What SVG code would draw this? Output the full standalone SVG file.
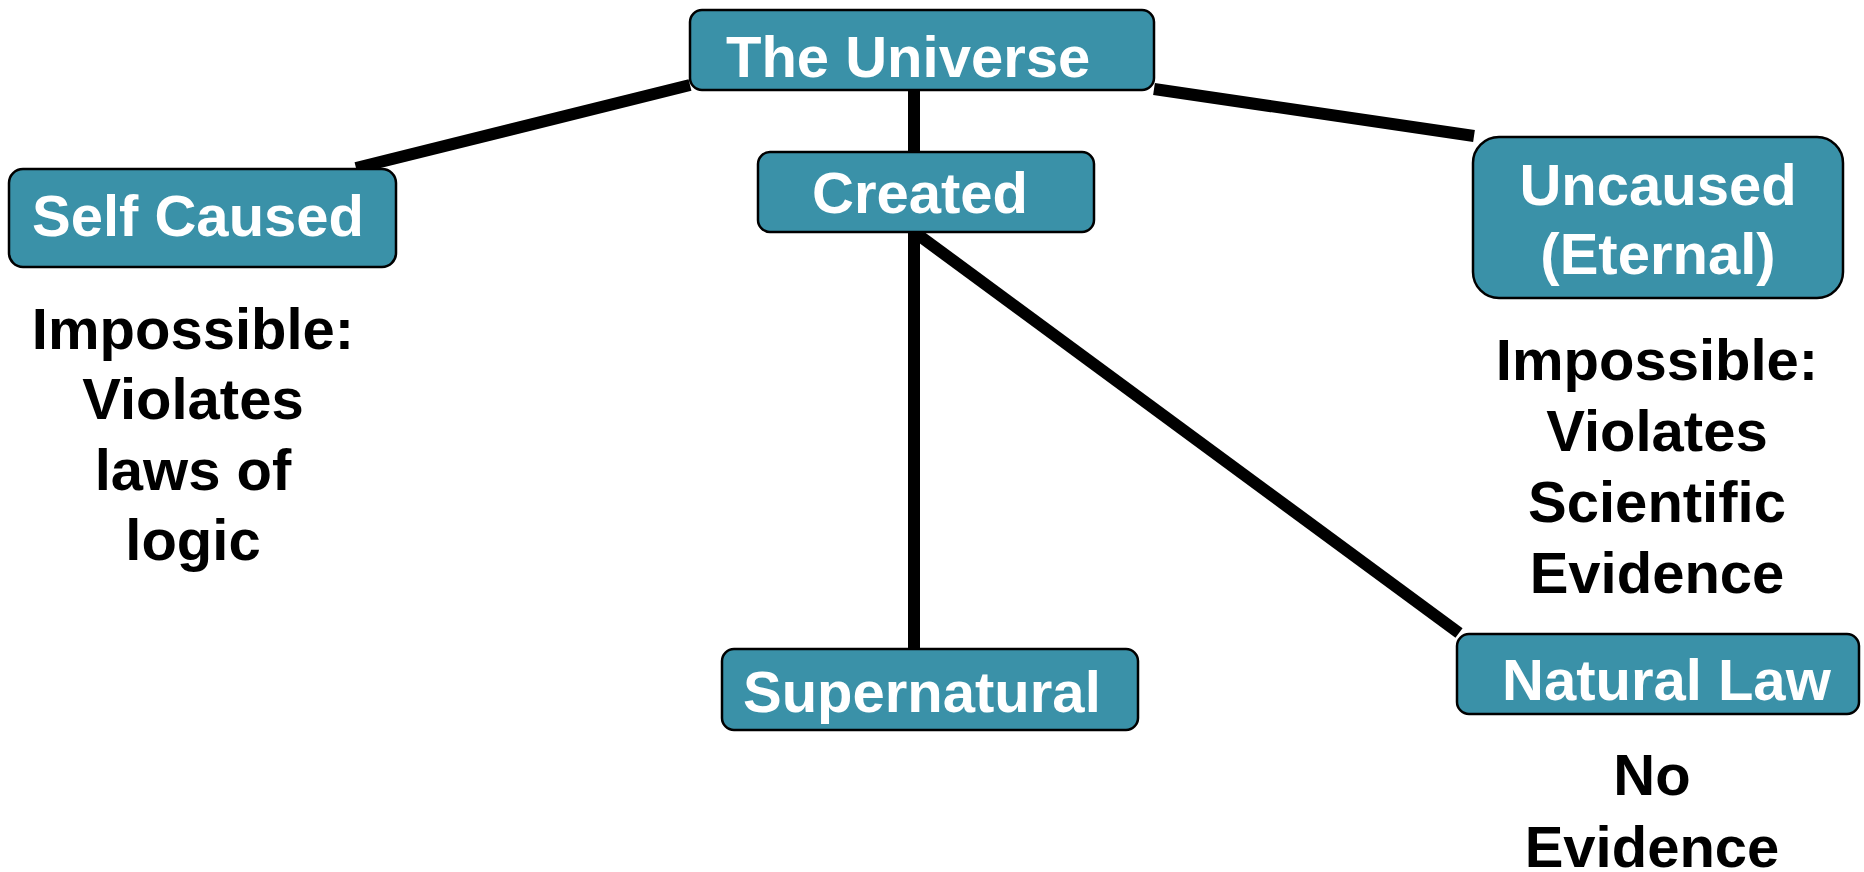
<svg xmlns="http://www.w3.org/2000/svg" width="1864" height="872" viewBox="0 0 1864 872">
<style>
.box{fill:#3a91a8;stroke:#000;stroke-width:2.5}
.bt{font-family:"Liberation Sans",Arial,sans-serif;font-weight:bold;font-size:58px;fill:#fff}
.lt{font-family:"Liberation Sans",Arial,sans-serif;font-weight:bold;font-size:58px;fill:#000;text-anchor:middle}
.c{stroke:#000;stroke-width:12;fill:none;stroke-linecap:butt}
</style>
<rect width="1864" height="872" fill="#fff"/>
<g id="connectors">
<line class="c" x1="690" y1="85" x2="356" y2="168"/>
<line class="c" x1="1154" y1="89" x2="1474" y2="136"/>
<line class="c" x1="914" y1="90" x2="914" y2="153"/>
<line class="c" x1="914" y1="232" x2="914" y2="650"/>
<line class="c" x1="917" y1="234" x2="1459" y2="633"/>
</g>
<g id="universe">
<rect class="box" x="690" y="10" width="464" height="80" rx="12"/>
<text class="bt" x="726" y="77">The Universe</text>
</g>
<g id="self-caused">
<rect class="box" x="9" y="169" width="387" height="98" rx="14"/>
<text class="bt" x="32" y="236">Self Caused</text>
</g>
<g id="created">
<rect class="box" x="758" y="152" width="336" height="80" rx="12"/>
<text class="bt" x="812" y="213">Created</text>
</g>
<g id="uncaused">
<rect class="box" x="1473" y="137" width="370" height="161" rx="26"/>
<text class="bt" x="1658" y="205" text-anchor="middle">Uncaused</text>
<text class="bt" x="1658" y="274" text-anchor="middle">(Eternal)</text>
</g>
<g id="supernatural">
<rect class="box" x="722" y="649" width="416" height="81" rx="12"/>
<text class="bt" x="743" y="712">Supernatural</text>
</g>
<g id="natural-law">
<rect class="box" x="1457" y="634" width="402" height="80" rx="12"/>
<text class="bt" x="1502" y="700">Natural Law</text>
</g>
<g id="label-self">
<text class="lt" x="193" y="349">Impossible:</text>
<text class="lt" x="193" y="419">Violates</text>
<text class="lt" x="193" y="490">laws of</text>
<text class="lt" x="193" y="560">logic</text>
</g>
<g id="label-uncaused">
<text class="lt" x="1657" y="380">Impossible:</text>
<text class="lt" x="1657" y="451">Violates</text>
<text class="lt" x="1657" y="522">Scientific</text>
<text class="lt" x="1657" y="593">Evidence</text>
</g>
<g id="label-natural">
<text class="lt" x="1652" y="795">No</text>
<text class="lt" x="1652" y="867">Evidence</text>
</g>
</svg>
